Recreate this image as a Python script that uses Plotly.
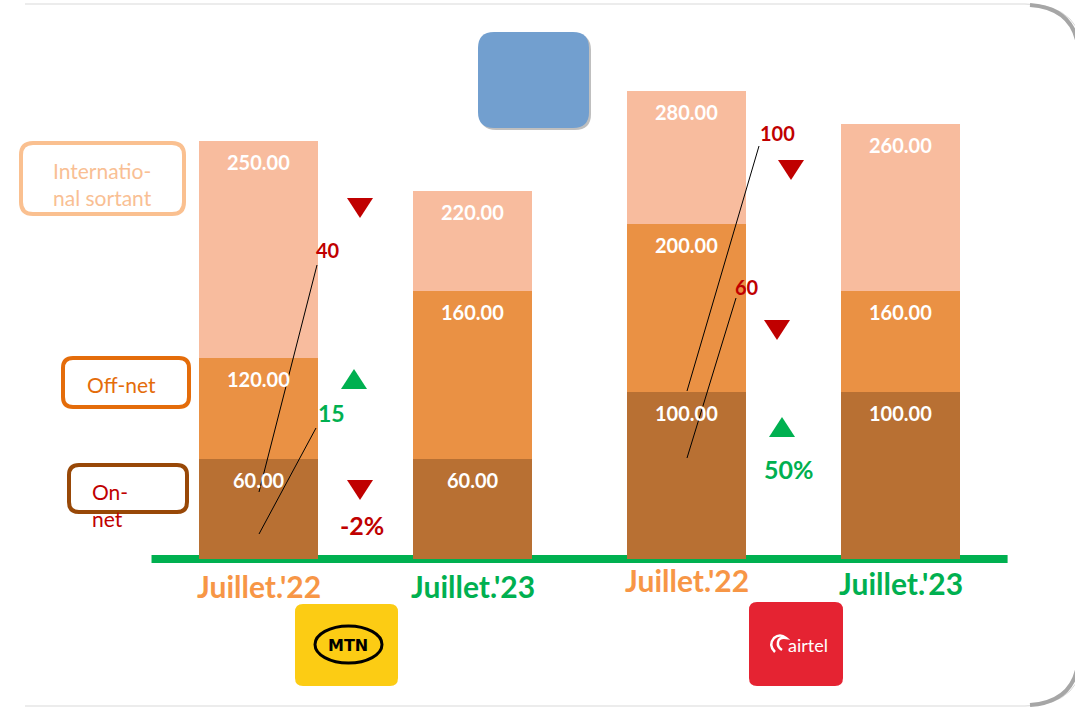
import plotly.graph_objects as go
import numpy as np

# ---------------- data ----------------
periods = ["Juillet.'22", "Juillet.'23", "Juillet.'22", "Juillet.'23"]
period_colors = ["#F79646", "#00B050", "#F79646", "#00B050"]
operators = ["MTN", "MTN", "Airtel", "Airtel"]
# cumulative levels shown as labels on each segment
on_net_level = [60, 60, 100, 100]
off_net_level = [120, 160, 200, 160]
intl_level = [250, 220, 280, 260]

seg_on = np.array(on_net_level, dtype=float)
seg_off = np.array(off_net_level, dtype=float) - seg_on
seg_intl = np.array(intl_level, dtype=float) - np.array(off_net_level, dtype=float)

xpos = list(range(len(periods)))
C_ON, C_OFF, C_INTL = "#B87033", "#EA9144", "#F8BC9E"
FONT = "Lato"

fig = go.Figure()
for seg, col, name in [(seg_on, C_ON, "On-net"), (seg_off, C_OFF, "Off-net"),
                       (seg_intl, C_INTL, "International sortant")]:
    fig.add_trace(go.Bar(x=xpos, y=seg, marker=dict(color=col, line=dict(width=0)),
                         width=0.556, name=name, showlegend=False, hoverinfo="skip"))

# pixel-space overlay axes for decorations
fig.add_trace(go.Scatter(x=[0], y=[0], xaxis="x2", yaxis="y2", mode="markers",
                         marker=dict(size=1, color="rgba(0,0,0,0)"), showlegend=False,
                         hoverinfo="skip"))

ann = []
shapes = []

# segment labels
for levels in (on_net_level, off_net_level, intl_level):
    for i, v in enumerate(levels):
        ann.append(dict(x=xpos[i], y=v, xref="x", yref="y", text=f"<b>{v:.2f}</b>",
                        showarrow=False, yanchor="top", yshift=-7,
                        font=dict(family=FONT, size=20, color="white")))

# x labels
label_y = [586, 586, 580, 583]
for i, (p, c) in enumerate(zip(periods, period_colors)):
    ann.append(dict(x=xpos[i], y=label_y[i], xref="x", yref="y2", text=f"<b>{p}</b>",
                    showarrow=False, yanchor="middle",
                    font=dict(family=FONT, size=30, color=c)))

# green baseline (drawn beneath the bars)
shapes.append(dict(type="line", xref="x", yref="y", x0=-0.5, x1=3.5, y0=0, y1=0,
                   line=dict(color="#00B050", width=8), layer="below"))


def rrect(x0, y0, x1, y1, r):
    return (f"M{x0+r},{y0} L{x1-r},{y0} Q{x1},{y0} {x1},{y0+r} L{x1},{y1-r} "
            f"Q{x1},{y1} {x1-r},{y1} L{x0+r},{y1} Q{x0},{y1} {x0},{y1-r} "
            f"L{x0},{y0+r} Q{x0},{y0} {x0+r},{y0} Z")


def pshape(path, fill=None, line_color=None, width=0):
    d = dict(type="path", xref="x2", yref="y2", path=path,
             line=dict(color=line_color or "rgba(0,0,0,0)", width=width))
    if fill:
        d["fillcolor"] = fill
    return d


# outer frame
shapes.append(pshape("M25,4 L1025,4 Q1085,4 1085,64 L1085,646 Q1085,706 1025,706 L25,706",
                     line_color="#D9D9D9", width=1))
shapes.append(pshape("M1030,5 Q1072,8 1078,45", line_color="#A6A6A6", width=4))
shapes.append(pshape("M1078,665 Q1072,702 1030,705", line_color="#A6A6A6", width=4))

# blue box
shapes.append(pshape(rrect(480, 34, 591, 130, 16), fill="#BFBFBF"))
shapes.append(pshape(rrect(478, 32, 589, 128, 16), fill="#729FCF"))

# legend boxes
shapes.append(pshape(rrect(21, 143, 184, 214, 12), line_color="#FAC090", width=4))
ann.append(dict(x=102, y=184, xref="x2", yref="y2", text="Internatio-<br>nal sortant",
                showarrow=False, font=dict(family=FONT, size=21, color="#F9BF94")))
shapes.append(pshape(rrect(63, 358, 189, 407, 10), line_color="#E46C0A", width=4))
ann.append(dict(x=121, y=384, xref="x2", yref="y2", text="Off-net",
                showarrow=False, font=dict(family=FONT, size=21, color="#E46C0A")))
shapes.append(pshape(rrect(69, 465, 187, 512, 10), line_color="#984807", width=4))
ann.append(dict(x=90, y=505, xref="x2", yref="y2", text="On-<br>net", align="left",
                xanchor="left", showarrow=False,
                font=dict(family=FONT, size=21, color="#C00000")))

# logos
shapes.append(pshape(rrect(295, 604, 398, 686, 8), fill="#FCCC14"))
shapes.append(dict(type="circle", xref="x2", yref="y2", x0=315, x1=382, y0=626, y1=663,
                   line=dict(color="black", width=3)))
ann.append(dict(x=348, y=645, xref="x2", yref="y2", text="<b>MTN</b>", showarrow=False,
                font=dict(family="DejaVu Sans", size=16, color="black")))
shapes.append(pshape(rrect(749, 602, 843, 686, 8), fill="#E52332"))
ann.append(dict(x=808, y=645, xref="x2", yref="y2", text="airtel", showarrow=False,
                font=dict(family=FONT, size=18, color="white")))
shapes.append(pshape("M775,652 Q768,645 774,638 Q780,633 786,638 Q779,637 778,642 Q777,647 782,650",
                     line_color="white", width=2.5))

# change indicators
def tri(cx, cy, down, color):
    w, h = 13, 10
    if down:
        p = f"M{cx-w},{cy-h} L{cx+w},{cy-h} L{cx},{cy+h} Z"
    else:
        p = f"M{cx-w},{cy+h} L{cx+w},{cy+h} L{cx},{cy-h} Z"
    return pshape(p, fill=color)

RED, GREEN = "#C00000", "#00B050"
shapes += [tri(360, 208, True, RED), tri(354, 379, False, GREEN), tri(360, 490, True, RED),
           tri(791, 170, True, RED), tri(777, 330, True, RED), tri(782, 427, False, GREEN)]

texts = [("40", 328, 250, RED, 20), ("15", 331, 413, GREEN, 23), ("-2%", 362, 525, RED, 25),
         ("100", 777, 133, RED, 20), ("60", 747, 287, RED, 20), ("50%", 789, 469, GREEN, 25)]
for t, x, y, c, s in texts:
    ann.append(dict(x=x, y=y, xref="x2", yref="y2", text=f"<b>{t}</b>", showarrow=False,
                    font=dict(family=FONT, size=s, color=c)))

for x0, y0, x1, y1 in [(317, 265, 259, 492), (316, 428, 259, 534),
                       (759, 146, 687, 391), (736, 298, 687, 458)]:
    shapes.append(dict(type="line", xref="x2", yref="y2", x0=x0, y0=y0, x1=x1, y1=y1,
                       line=dict(color="black", width=1)))

fig.update_layout(
    width=1075, height=710, margin=dict(l=0, r=0, t=0, b=0),
    paper_bgcolor="white", plot_bgcolor="rgba(0,0,0,0)", barmode="stack", bargap=0,
    xaxis=dict(range=[-1.208, 3.815], visible=False, fixedrange=True),
    yaxis=dict(range=[-90.3, 334.1], visible=False, fixedrange=True),
    xaxis2=dict(range=[0, 1075], overlaying="x", visible=False, fixedrange=True),
    yaxis2=dict(range=[710, 0], overlaying="y", visible=False, fixedrange=True),
    annotations=ann, shapes=shapes, showlegend=False,
)
fig.write_html("out.html", config={"displayModeBar": False},
               post_script="document.body.style.margin='0';document.body.style.overflow='hidden';")
